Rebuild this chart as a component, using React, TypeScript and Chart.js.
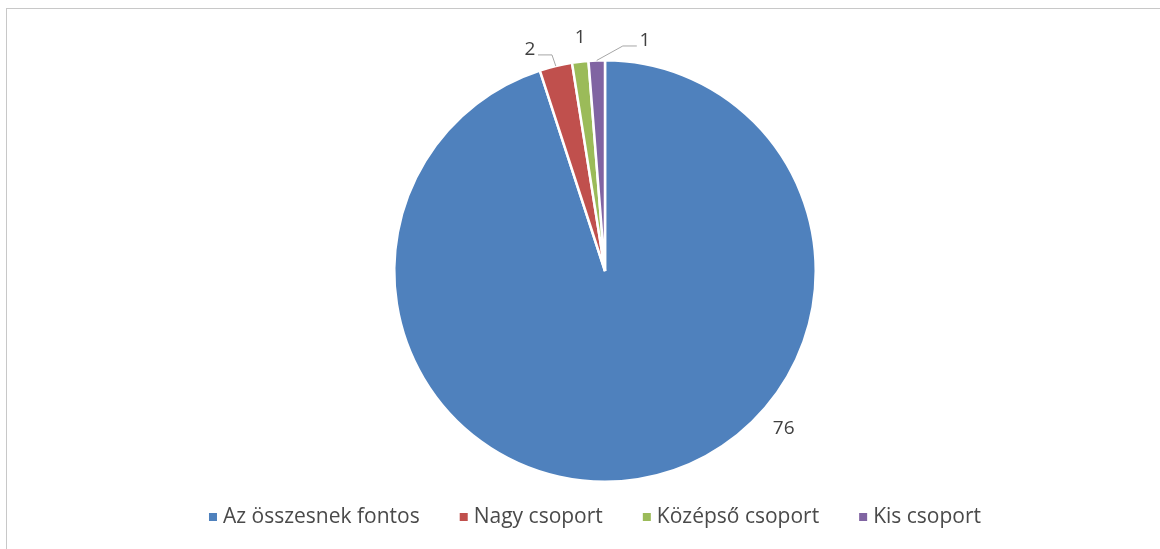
import React, { useEffect, useRef } from "react";
import { Chart, registerables } from "chart.js";

Chart.register(...registerables);

const categories = ["Az összesnek fontos", "Nagy csoport", "Középső csoport", "Kis csoport"];
const values = [76, 2, 1, 1];
const colors = ["#4F81BD", "#C0504D", "#9BBB59", "#8064A2"];
// data label placement (canvas angle in degrees, radius factor), leader line flag
const labelAngles = [41.4, -108.7, -96.1, -80.2];
const labelRadius = [1.13, 1.11, 1.112, 1.11];
const leaderLines = [false, true, false, true];

const FONT = "'Open Sans', 'Noto Sans', sans-serif";
const TEXT = "#404040";

const outLabels = {
  id: "outLabels",
  afterDatasetsDraw(chart: any) {
    const ctx = chart.ctx;
    const meta = chart.getDatasetMeta(0);
    ctx.save();
    ctx.font = `19px ${FONT}`;
    ctx.textAlign = "center";
    ctx.textBaseline = "middle";
    meta.data.forEach((arc: any, i: number) => {
      const { x, y, outerRadius, startAngle, endAngle } = arc.getProps(
        ["x", "y", "outerRadius", "startAngle", "endAngle"],
        true
      );
      const a = (labelAngles[i] * Math.PI) / 180;
      const lx = x + Math.cos(a) * outerRadius * labelRadius[i];
      const ly = y + Math.sin(a) * outerRadius * labelRadius[i];
      if (leaderLines[i]) {
        const mid = (startAngle + endAngle) / 2;
        const sx = x + Math.cos(mid) * outerRadius;
        const sy = y + Math.sin(mid) * outerRadius;
        const side = Math.sign(lx - sx);
        ctx.beginPath();
        ctx.strokeStyle = "#A6A6A6";
        ctx.lineWidth = 1;
        ctx.moveTo(sx, sy);
        ctx.lineTo(lx - side * 22, ly + 5.5);
        ctx.lineTo(lx - side * 8, ly + 5.5);
        ctx.stroke();
      }
      ctx.fillStyle = TEXT;
      ctx.fillText(String(values[i]), lx, ly);
    });
    ctx.restore();
  },
};

const bottomLegend = {
  id: "bottomLegend",
  afterDraw(chart: any) {
    const ctx = chart.ctx;
    const labels: string[] = chart.data.labels;
    const bg: string[] = chart.data.datasets[0].backgroundColor;
    ctx.save();
    ctx.font = `21px ${FONT}`;
    ctx.textBaseline = "middle";
    ctx.textAlign = "left";
    const box = 8;
    const gap = 6;
    const spacing = 40;
    const widths = labels.map((l) => ctx.measureText(l).width);
    const total =
      widths.reduce((s, w) => s + box + gap + w, 0) + spacing * (labels.length - 1);
    const cx = (chart.chartArea.left + chart.chartArea.right) / 2 - 10;
    let x = cx - total / 2;
    const y = chart.chartArea.bottom + 34;
    labels.forEach((l, i) => {
      ctx.fillStyle = bg[i];
      ctx.fillRect(x, y - box / 2, box, box);
      ctx.fillStyle = "#4A4A4A";
      ctx.fillText(l, x + box + gap, y);
      x += box + gap + widths[i] + spacing;
    });
    ctx.restore();
  },
};

export default function App() {
  const ref = useRef<HTMLCanvasElement | null>(null);
  useEffect(() => {
    if (!ref.current) return;
    const chart = new Chart(ref.current, {
      type: "pie",
      data: {
        labels: categories,
        datasets: [
          {
            data: values,
            backgroundColor: colors,
            borderColor: "#FFFFFF",
            borderWidth: 2.5,
          },
        ],
      },
      options: {
        animation: false,
        responsive: false,
        maintainAspectRatio: false,
        layout: { padding: { top: 59, left: 50, right: 0, bottom: 66 } },
        plugins: {
          tooltip: { enabled: false },
          legend: { display: false },
        },
      },
      plugins: [outLabels, bottomLegend],
    });
    return () => chart.destroy();
  }, []);
  return (
    <div
      style={{
        position: "fixed",
        left: 0,
        top: 0,
        width: 1160,
        height: 549,
        overflow: "hidden",
        background: "#FFFFFF",
      }}
    >
      <div
        style={{
          position: "absolute",
          left: 6,
          top: 8,
          width: 1200,
          height: 600,
          border: "1px solid #C8C8C8",
        }}
      />
      <canvas
        ref={ref}
        width={1160}
        height={549}
        style={{ position: "absolute", left: 0, top: 0, width: 1160, height: 549 }}
      />
    </div>
  );
}
